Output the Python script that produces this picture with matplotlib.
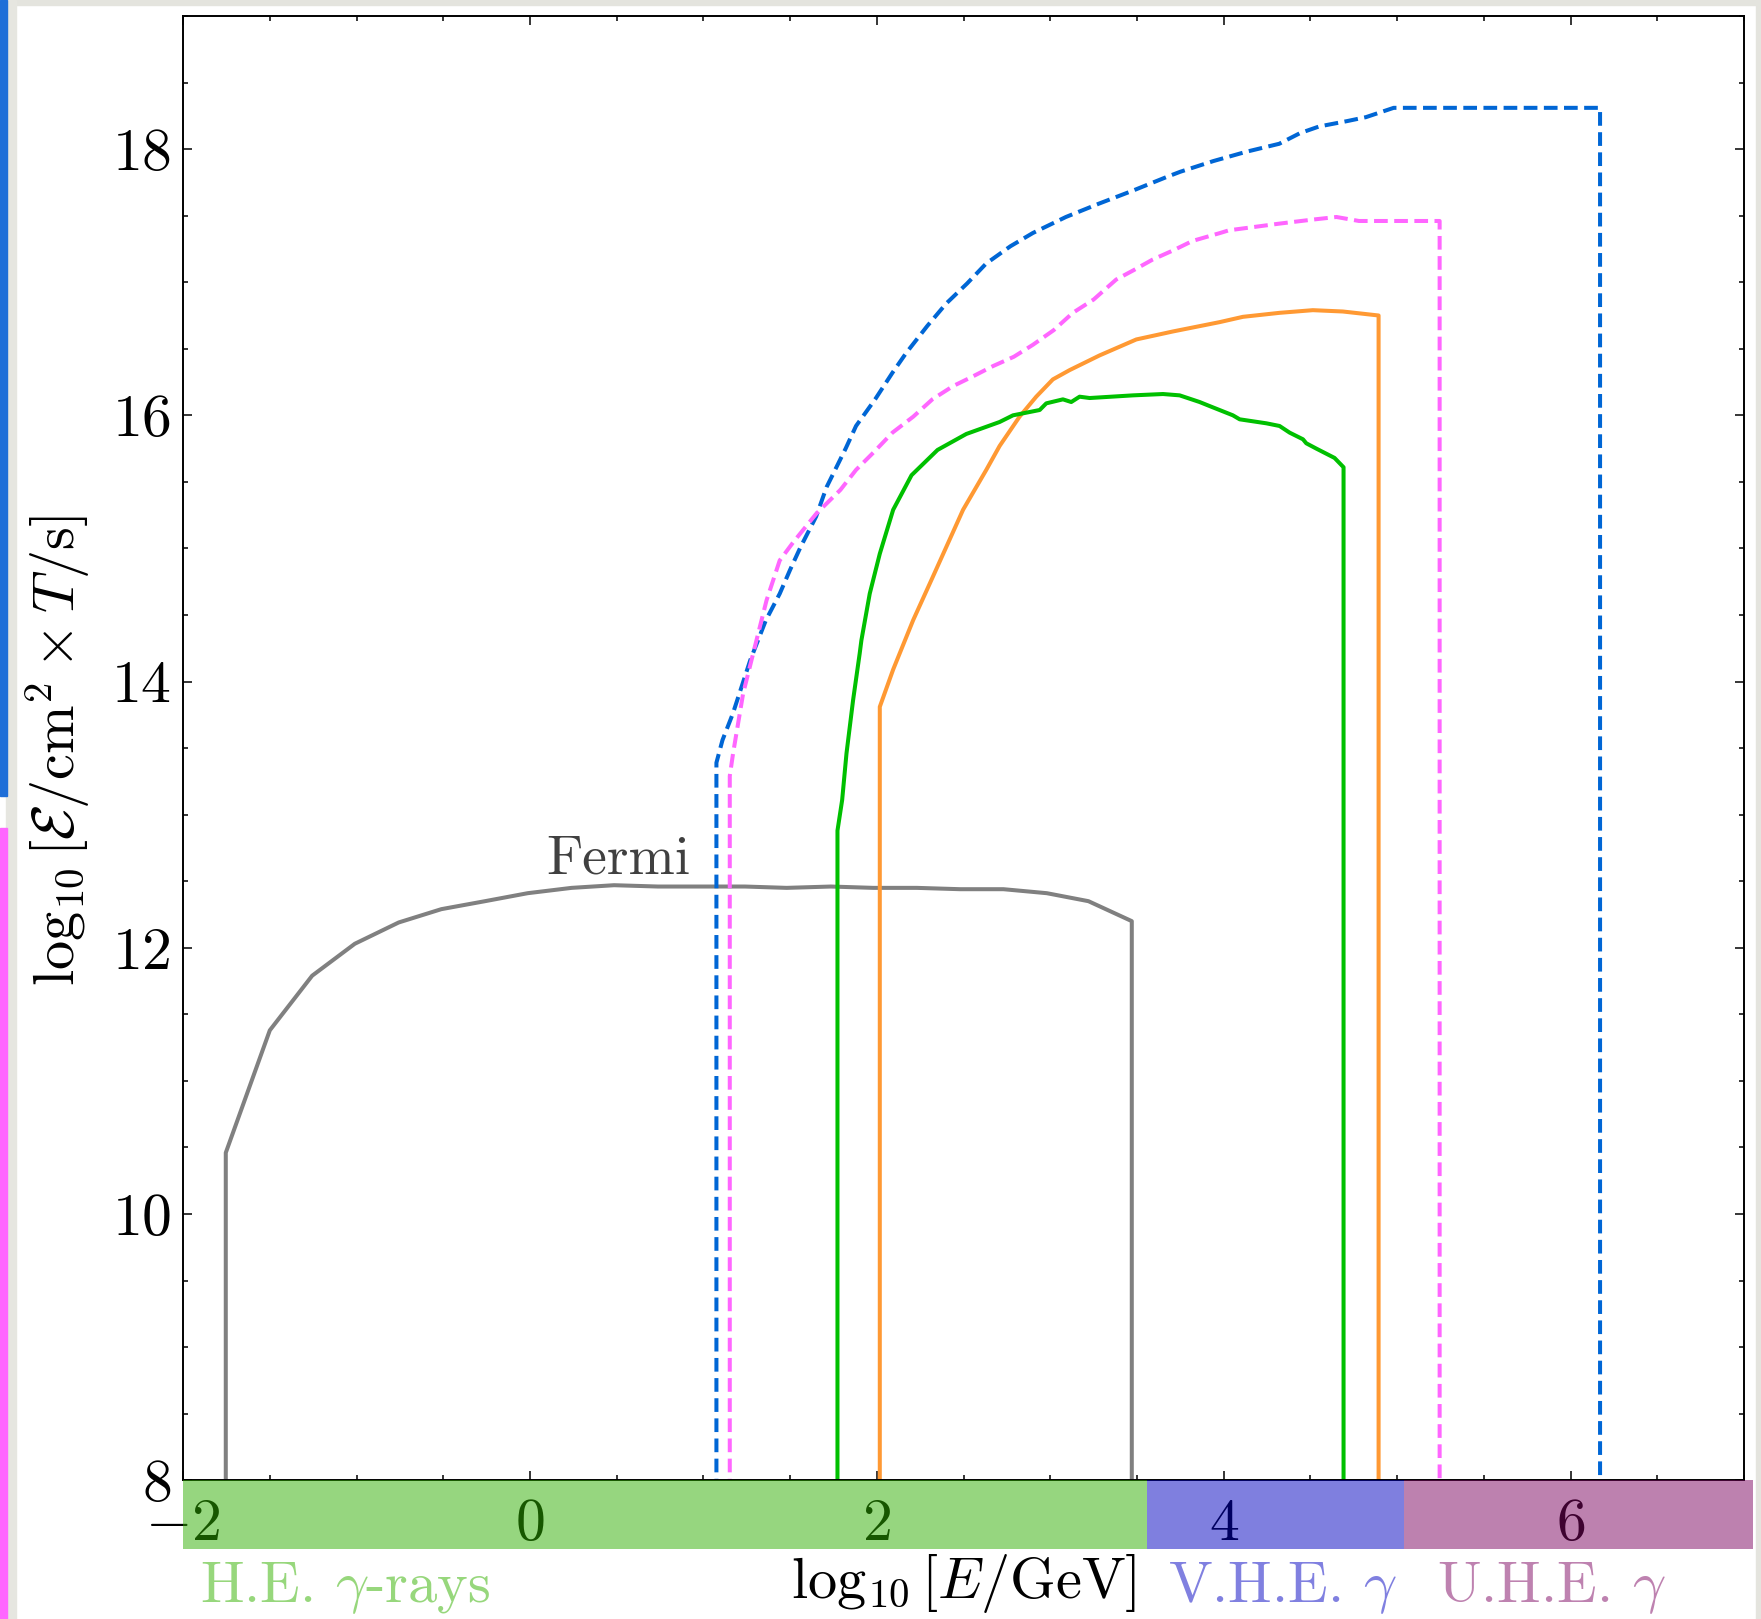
import matplotlib
matplotlib.use("Agg")
import matplotlib.pyplot as plt
from matplotlib.patches import Rectangle
from matplotlib.ticker import MultipleLocator
import matplotlib.transforms as mtransforms

plt.rcParams['mathtext.fontset'] = 'cm'
plt.rcParams['font.family'] = ['cmr10', 'DejaVu Serif']
plt.rcParams['axes.formatter.use_mathtext'] = True

# sensitivity curves, log10 E [GeV] vs log10 exposure
fermi_x = [-1.754, -1.754, -1.50, -1.256, -1.01, -0.757, -0.511, -0.259, -0.013, 0.24, 0.485, 0.738,
           0.984, 1.24, 1.48, 1.735, 1.98, 2.23, 2.48, 2.73, 2.98, 3.22, 3.47, 3.47]
fermi_y = [7, 10.46, 11.38, 11.79, 12.03, 12.19, 12.29, 12.35, 12.41, 12.45, 12.47, 12.46,
           12.46, 12.46, 12.45, 12.46, 12.45, 12.45, 12.44, 12.44, 12.41, 12.35, 12.20, 7]

blue_x = [1.075, 1.075, 1.11, 1.17, 1.27, 1.36, 1.44, 1.50, 1.56, 1.65, 1.71, 1.82, 1.88, 1.99,
          2.09, 2.17, 2.29, 2.40, 2.52, 2.63, 2.77, 2.90, 3.09, 3.28, 3.48, 3.67, 3.75, 3.94,
          4.13, 4.32, 4.44, 4.55, 4.71, 4.82, 4.98, 6.17, 6.17]
blue_y = [7, 13.39, 13.56, 13.76, 14.16, 14.46, 14.66, 14.84, 15.01, 15.24, 15.46, 15.75, 15.92, 16.12,
          16.32, 16.47, 16.67, 16.84, 16.99, 17.14, 17.27, 17.37, 17.49, 17.59, 17.69, 17.79, 17.83, 17.91,
          17.98, 18.04, 18.12, 18.17, 18.21, 18.24, 18.31, 18.31, 7]

pink_x = [1.152, 1.152, 1.171, 1.229, 1.306, 1.364, 1.44, 1.52, 1.65, 1.79, 1.88, 1.98, 2.09, 2.21,
          2.32, 2.44, 2.55, 2.67, 2.79, 2.90, 3.02, 3.13, 3.25, 3.38, 3.48, 3.59, 3.71, 3.82,
          3.98, 4.03, 4.32, 4.51, 4.65, 4.78, 5.01, 5.245, 5.245]
pink_y = [7, 13.29, 13.46, 13.91, 14.31, 14.61, 14.91, 15.05, 15.26, 15.44, 15.59, 15.72, 15.87, 15.99,
          16.12, 16.22, 16.29, 16.37, 16.44, 16.53, 16.64, 16.77, 16.87, 17.02, 17.09, 17.17, 17.24, 17.31,
          17.37, 17.39, 17.44, 17.47, 17.49, 17.46, 17.46, 17.46, 7]

green_x = [1.773, 1.773, 1.80, 1.825, 1.863, 1.901, 1.911, 1.959, 2.017, 2.094, 2.20, 2.35, 2.516,
           2.708, 2.785, 2.939, 2.977, 3.073, 3.121, 3.169, 3.227, 3.477, 3.65, 3.746, 3.861, 3.918,
           4.053, 4.092, 4.246, 4.322, 4.38, 4.457, 4.476, 4.534, 4.639, 4.691, 4.691]
green_y = [7, 12.88, 13.11, 13.46, 13.86, 14.21, 14.31, 14.66, 14.96, 15.29, 15.55, 15.74, 15.86,
           15.95, 16.0, 16.04, 16.09, 16.12, 16.10, 16.14, 16.13, 16.15, 16.16, 16.15, 16.10, 16.07,
           16.0, 15.97, 15.94, 15.92, 15.87, 15.82, 15.79, 15.75, 15.68, 15.61, 7]

orange_x = [2.017, 2.017, 2.094, 2.209, 2.324, 2.497, 2.631, 2.708, 2.823, 2.919, 3.015, 3.112,
            3.284, 3.496, 3.707, 3.976, 4.111, 4.322, 4.514, 4.687, 4.893, 4.893]
orange_y = [7, 13.81, 14.09, 14.46, 14.79, 15.29, 15.59, 15.77, 15.99, 16.14, 16.27, 16.34,
            16.45, 16.57, 16.63, 16.70, 16.74, 16.77, 16.79, 16.78, 16.75, 7]

# energy bands along the x axis
band_edges = [(-2.0, 3.56), (3.56, 5.04), (5.04, 7.05)]
band_colors = ['#2faf00', '#0101c1', '#7d0561']
band_names = [r'H.E. $\gamma$-rays', r'V.H.E. $\gamma$', r'U.H.E. $\gamma$']
band_text_x = [-1.90, 3.677, 5.23]
band_text_colors = ['#97d77c', '#8080e0', '#be82b0']

xtick_vals = [-2, 0, 2, 4, 6]
ytick_vals = [8, 10, 12, 14, 16, 18]

fig = plt.figure(figsize=(17.61, 16.19), dpi=100)
W, H = 1761, 1619

# screenshot borders
def px_rect(x0, y0, x1, y1, color):
    fig.patches.append(Rectangle((x0 / W, 1 - y1 / H), (x1 - x0) / W, (y1 - y0) / H,
                                 transform=fig.transFigure, color=color, zorder=0))

px_rect(0, 0, W, 5, '#e4e4de')
px_rect(W - 5, 0, W, H, '#e4e4de')
px_rect(6, 0, 16, H, '#e6e6e0')
px_rect(0, 0, 7, 796, '#1f6fd8')
px_rect(0, 828, 7, H, '#ff66ff')

ax = fig.add_axes([0.10398, 0.08573, 0.88637, 0.90439])

ax.plot(fermi_x, fermi_y, color='#808080', lw=2.9)
ax.plot(blue_x, blue_y, color='#0066d5', lw=2.9, ls=(0, (3.4, 1.6)))
ax.plot(pink_x, pink_y, color='#ff66ff', lw=2.9, ls=(0, (3.4, 1.6)))
ax.plot(orange_x, orange_y, color='#ff9933', lw=2.9)
ax.plot(green_x, green_y, color='#00c000', lw=2.9)

ax.text(0.511, 12.555, 'Fermi', fontsize=40, color='#404040', ha='center', va='baseline')

ax.set_xlim(-2, 7)
ax.set_ylim(8, 19)
ax.set_xticks(xtick_vals, labels=[f'${v}$' for v in xtick_vals])
ax.set_yticks(ytick_vals, labels=[f'${v}$' for v in ytick_vals])
ax.xaxis.set_minor_locator(MultipleLocator(0.5))
ax.yaxis.set_minor_locator(MultipleLocator(0.5))
ax.tick_params(which='both', direction='in', top=True, right=True, width=1.1, labelsize=43)
ax.tick_params(which='major', length=6.5)
ax.tick_params(which='minor', length=3.4)
ax.tick_params(axis='x', pad=13)
ax.tick_params(axis='y', pad=8.6)
for sp in ax.spines.values():
    sp.set_linewidth(1.4)

trans = mtransforms.blended_transform_factory(ax.transData, ax.transAxes)
band_h = 69 / 1464.2
for (x0, x1), c in zip(band_edges, band_colors):
    ax.add_patch(Rectangle((x0, -band_h), x1 - x0, band_h, transform=trans, color=c,
                           alpha=0.5, lw=0, clip_on=False, zorder=5))
for name, tx, tc in zip(band_names, band_text_x, band_text_colors):
    ax.text(tx, -0.083, name, transform=trans, color=tc, fontsize=42, ha='left', va='baseline')

ax.text(0.5, -0.0488, r'$\log_{10}[E/\mathrm{GeV}]$', transform=ax.transAxes,
        fontsize=42, ha='center', va='top')
ax.text(-0.0801, 0.498, r'$\log_{10}[\mathcal{E}/\mathrm{cm}^2\times T/\mathrm{s}]$',
        transform=ax.transAxes, fontsize=42, ha='center', va='center', rotation=90)

fig.savefig('out.png', dpi=100)
